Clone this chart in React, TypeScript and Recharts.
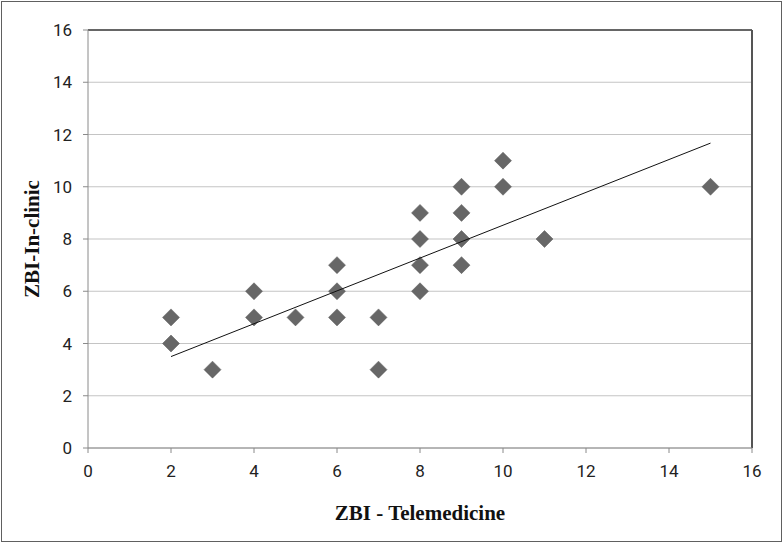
import React from "react";
import {
  ScatterChart,
  Scatter,
  XAxis,
  YAxis,
  CartesianGrid,
  ReferenceLine,
  Label,
} from "recharts";

const telemedicine = [2, 2, 3, 4, 4, 5, 6, 6, 6, 7, 7, 8, 8, 8, 8, 9, 9, 9, 9, 10, 10, 11, 15];
const inClinic = [5, 4, 3, 6, 5, 5, 7, 6, 5, 5, 3, 9, 8, 7, 6, 10, 9, 8, 7, 11, 10, 8, 10];
const trendX = [2, 15];
const trendY = [3.5, 11.67];
const ticks = [0, 2, 4, 6, 8, 10, 12, 14, 16];

const points = telemedicine.map((x, i) => ({ x, y: inClinic[i] }));
const trend = trendX.map((x, i) => ({ x, y: trendY[i] }));

const TICK_FONT = {
  fontSize: 17,
  fill: "#222",
  fontFamily: "Roboto, 'Liberation Sans', sans-serif",
};
const TITLE_FONT = "'Liberation Serif', 'DejaVu Serif', serif";

function Diamond(props: any) {
  const { cx, cy } = props;
  if (cx == null || cy == null) return <g />;
  const r = 8.5;
  return (
    <path
      d={`M${cx},${cy - r} L${cx + r},${cy} L${cx},${cy + r} L${cx - r},${cy} Z`}
      fill="#676767"
      stroke="#5a5a5a"
      strokeWidth={0.5}
    />
  );
}

export default function App() {
  return (
    <div style={{ position: "fixed", left: 0, top: 0, width: 784, height: 544, background: "#fff" }}>
      <div
        style={{
          position: "absolute",
          left: 1,
          top: 1,
          width: 781,
          height: 541,
          border: "1px solid #606060",
          boxSizing: "border-box",
        }}
      />
      <div style={{ position: "absolute", left: 0, top: 0 }}>
        <ScatterChart width={784} height={544} margin={{ top: 30, right: 32, bottom: 56, left: 28 }}>
          <CartesianGrid vertical={false} stroke="#c4c4c4" strokeWidth={1.2} />
          <XAxis
            type="number"
            dataKey="x"
            domain={[0, 16]}
            ticks={ticks}
            height={40}
            tick={TICK_FONT}
            tickSize={5}
            tickMargin={12}
            axisLine={{ stroke: "#8a8a8a" }}
            tickLine={{ stroke: "#8a8a8a" }}
          >
            <Label
              value="ZBI - Telemedicine"
              position="insideBottom"
              offset={-32}
              style={{ fontFamily: TITLE_FONT, fontWeight: "bold", fontSize: 21, fill: "#111" }}
            />
          </XAxis>
          <YAxis
            type="number"
            dataKey="y"
            domain={[0, 16]}
            ticks={ticks}
            width={60}
            tick={TICK_FONT}
            tickSize={5}
            tickMargin={11}
            axisLine={{ stroke: "#8a8a8a" }}
            tickLine={{ stroke: "#8a8a8a" }}
          >
            <Label
              value="ZBI-In-clinic"
              angle={-90}
              position="insideLeft"
              offset={4}
              style={{
                fontFamily: TITLE_FONT,
                fontWeight: "bold",
                fontSize: 21,
                fill: "#111",
                textAnchor: "middle",
              }}
            />
          </YAxis>
          <ReferenceLine y={16} stroke="#3c3c3c" strokeWidth={1.5} />
          <ReferenceLine x={16} stroke="#555" strokeWidth={2} />
          <Scatter data={points} shape={<Diamond />} isAnimationActive={false} />
          <Scatter
            data={trend}
            line={{ stroke: "#111", strokeWidth: 1 }}
            lineType="joint"
            shape={() => <g />}
            isAnimationActive={false}
          />
        </ScatterChart>
      </div>
    </div>
  );
}
